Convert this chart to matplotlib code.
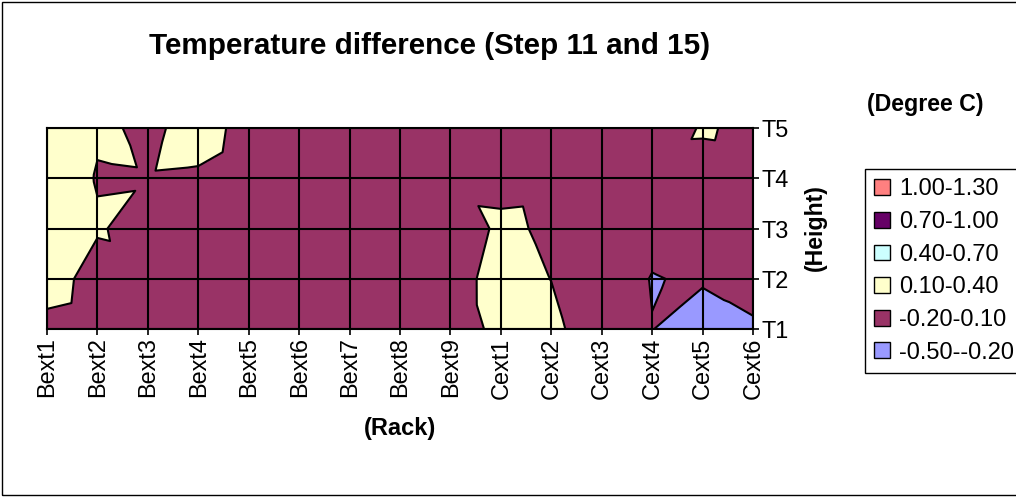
import numpy as np
import matplotlib.pyplot as plt
import matplotlib.tri as mtri
from matplotlib.patches import Patch, Rectangle

plt.rcParams['font.family'] = ['Liberation Sans', 'DejaVu Sans']

racks = ["Bext1", "Bext2", "Bext3", "Bext4", "Bext5", "Bext6", "Bext7", "Bext8", "Bext9",
         "Cext1", "Cext2", "Cext3", "Cext4", "Cext5", "Cext6"]
heights = ["T1", "T2", "T3", "T4", "T5"]

# temperature difference per rack, one row per height (T1 .. T5)
temp_diff = [
    [0.0, -0.05, -0.05, -0.05, -0.05, -0.05, -0.05, -0.05, -0.1, 0.2, 0.15, -0.03, -0.189, -0.456, -0.25],
    [0.25, -0.03, -0.05, -0.05, -0.05, -0.05, -0.05, -0.05, -0.016, 0.207, 0.097, 0.083, -0.22, -0.144, -0.06],
    [0.3, 0.13, -0.02, -0.03, -0.05, -0.05, -0.05, -0.05, -0.072, 0.15, 0.059, -0.05, -0.061, -0.05, -0.05],
    [0.3, 0.083, 0.09, 0.083, -0.02, -0.05, -0.05, -0.05, -0.05, 0.022, -0.05, -0.05, -0.05, -0.013, -0.05],
    [0.3, 0.13, 0.07, 0.153, 0.057, -0.05, -0.05, -0.05, -0.05, -0.05, -0.05, -0.05, -0.12, 0.13, 0.033],
]

# value read at the middle of each grid cell (the chart splits every cell in 4 triangles)
cell_mid = [
    [0.095, -0.04, -0.05, -0.05, -0.05, -0.05, -0.05, -0.05, 0.095, 0.17, 0.036, -0.045, -0.168, -0.21],
    [0.19, 0.07, -0.04, -0.05, -0.05, -0.05, -0.05, -0.05, 0.067, 0.125, 0.04, 0.013, -0.10, -0.07],
    [0.2, 0.11, 0.03, 0.0, -0.05, -0.05, -0.05, -0.05, 0.094, 0.093, -0.02, -0.05, -0.04, -0.05],
    [0.2, 0.113, 0.123, 0.098, -0.015, -0.05, -0.05, -0.05, -0.05, -0.03, -0.05, -0.05, 0.062, 0.069],
]

levels = [-0.5, -0.2, 0.1, 0.4, 0.7, 1.0, 1.3]
band_labels = ["-0.50--0.20", "-0.20-0.10", "0.10-0.40", "0.40-0.70", "0.70-1.00", "1.00-1.30"]
band_colors = ["#9999FF", "#993366", "#FFFFCC", "#CCFFFF", "#660066", "#FF8080"]

nx, ny = len(racks), len(heights)
z = np.array(temp_diff)
zm = np.array(cell_mid)

# build the triangulation: grid nodes + cell middles
gx, gy = np.meshgrid(np.arange(nx), np.arange(ny))
cx, cy = np.meshgrid(np.arange(nx - 1) + 0.5, np.arange(ny - 1) + 0.5)
x = np.concatenate([gx.ravel(), cx.ravel()])
y = np.concatenate([gy.ravel(), cy.ravel()])
v = np.concatenate([z.ravel(), zm.ravel()])

tris = []
for j in range(ny - 1):
    for i in range(nx - 1):
        a = j * nx + i
        b = a + 1
        d = a + nx
        c = d + 1
        m = nx * ny + j * (nx - 1) + i
        tris += [[a, b, m], [b, c, m], [c, d, m], [d, a, m]]
tri = mtri.Triangulation(x, y, tris)

W, H = 1016, 497
fig = plt.figure(figsize=(W / 100, H / 100), dpi=100)
ax = fig.add_axes([47 / W, 1 - 329 / H, 706 / W, 201 / H])

ax.tricontourf(tri, v, levels=levels, colors=band_colors)
ax.tricontour(tri, v, levels=[-0.2, 0.1], colors='k', linewidths=1.5, linestyles='solid')

ax.set_xlim(0, nx - 1)
ax.set_ylim(0, ny - 1)
ax.set_xticks(range(nx))
ax.set_xticklabels(racks, rotation=90)
ax.set_yticks(range(ny))
ax.set_yticklabels(heights)
ax.yaxis.tick_right()
ax.tick_params(direction='out', length=4, width=1.2, labelsize=16.9, pad=2, colors='k')
ax.grid(True, color='k', lw=1.5)
ax.set_axisbelow(False)
for s in ax.spines.values():
    s.set_linewidth(1.5)

fig.text(430 / W, 1 - 46 / H, "Temperature difference (Step 11 and 15)",
         ha='center', va='center', fontsize=21.3, fontweight='bold')
fig.text(925 / W, 1 - 104 / H, "(Degree C)", ha='center', va='center',
         fontsize=16.7, fontweight='bold')
fig.text(815 / W, 1 - 228 / H, "(Height)", ha='center', va='center',
         fontsize=16.7, fontweight='bold', rotation=90)
fig.text(400 / W, 1 - 429 / H, "(Rack)", ha='center', va='center',
         fontsize=17, fontweight='bold')

handles = [Patch(facecolor=c, edgecolor='k', lw=1) for c in band_colors][::-1]
leg = fig.legend(handles, band_labels[::-1], loc='upper left',
                 bbox_to_anchor=(865 / W, 1 - 169 / H), frameon=True, fancybox=False,
                 edgecolor='k', fontsize=17, handlelength=0.65, handleheight=0.65,
                 handletextpad=0.38, labelspacing=0.45, borderpad=0.4, borderaxespad=0)
leg.get_frame().set_linewidth(1)
leg.get_frame().set_alpha(1)

fig.patches.append(Rectangle((2 / W, 2 / H), 1.1, 1 - 4 / H, transform=fig.transFigure,
                             fill=False, edgecolor='k', lw=1))

fig.savefig('out.png', dpi=100)
